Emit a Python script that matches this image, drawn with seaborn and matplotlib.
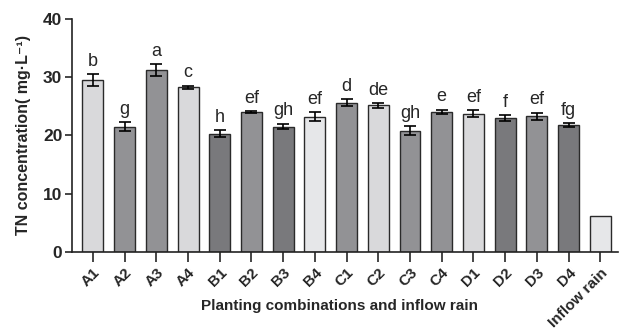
#! /usr/bin/env python3
# coding: utf-8
"""
Bar chart of TN concentration per planting combination and inflow rain

Output:
  - out.png
"""
import numpy as np
import pandas as pd
import matplotlib
matplotlib.use('Agg')
import matplotlib.pyplot as plt
import seaborn as sb

groups = ['A1', 'A2', 'A3', 'A4', 'B1', 'B2', 'B3', 'B4',
          'C1', 'C2', 'C3', 'C4', 'D1', 'D2', 'D3', 'D4', 'Inflow rain']
tn_mean = [29.5, 21.5, 31.2, 28.2, 20.3, 24.0, 21.5, 23.2,
           25.6, 25.1, 20.8, 24.0, 23.7, 22.9, 23.3, 21.8, 6.2]
tn_err = [1.0, 0.7, 1.0, 0.3, 0.6, 0.15, 0.5, 0.8,
          0.6, 0.35, 0.8, 0.4, 0.6, 0.5, 0.6, 0.3, 0.0]
letters = ['b', 'g', 'a', 'c', 'h', 'ef', 'gh', 'ef',
           'd', 'de', 'gh', 'e', 'ef', 'f', 'ef', 'fg', '']

LIGHT, MID, DARK, PALE = '#d9d9db', '#919296', '#78797d', '#e6e7e9'
bar_colors = [LIGHT, MID, MID, LIGHT, DARK, MID, DARK, PALE,
              MID, LIGHT, MID, MID, LIGHT, DARK, MID, DARK, PALE]


if __name__ == '__main__':
    sb.set_style('ticks')
    plt.rcParams['font.family'] = ['Liberation Sans', 'Noto Sans CJK SC', 'DejaVu Sans']

    data = pd.DataFrame({'group': groups, 'tn': tn_mean})

    fig = plt.figure(figsize=(6.23, 3.31), dpi=100)
    ax = fig.add_axes([0.1156, 0.2387, 0.8764, 0.7053])

    sb.barplot(
        data=data,
        x='group',
        y='tn',
        hue='group',
        palette=bar_colors,
        legend=False,
        width=0.66,
        edgecolor='#2a2a2a',
        linewidth=1.0,
        ax=ax
    )

    # error bars only where there is a spread
    pos = np.arange(len(groups))
    err = np.array(tn_err)
    has_err = err > 0
    ax.errorbar(pos[has_err], np.array(tn_mean)[has_err], yerr=err[has_err],
                fmt='none', ecolor='black', elinewidth=1.2, capsize=4, capthick=1.2)

    # significance letters
    for x, m, e, lab in zip(pos, tn_mean, tn_err, letters):
        if lab:
            ax.annotate(lab, (x, m + e), xytext=(0, 6), textcoords='offset points',
                        ha='center', va='baseline', fontsize=13)

    ax.set_xlim(-0.66, 16.56)
    ax.set_ylim(0, 40)
    ax.set_yticks([0, 10, 20, 30, 40])

    for side in ['top', 'right']:
        ax.spines[side].set_visible(False)
    for side in ['left', 'bottom']:
        ax.spines[side].set_linewidth(1.2)
        ax.spines[side].set_color('#222222')

    ax.tick_params(axis='y', length=5, width=1.2, labelsize=12.5, pad=2)
    ax.tick_params(axis='x', length=7, width=1.2, labelsize=11, pad=3)
    for lab in ax.get_yticklabels():
        lab.set_fontweight('bold')
    ax.set_xticks(pos)
    ax.set_xticklabels(groups, rotation=45, ha='right', rotation_mode='anchor',
                       fontweight='bold')

    ax.set_xlabel('Planting combinations and inflow rain', fontsize=11,
                  fontweight='bold')
    ax.xaxis.set_label_coords(0.49, -0.20)
    ax.set_ylabel('TN concentration( mg·L⁻¹)', fontsize=11.5,
                  fontweight='bold')
    ax.yaxis.set_label_coords(-0.075, 0.5)

    fig.savefig('out.png', dpi=100)
